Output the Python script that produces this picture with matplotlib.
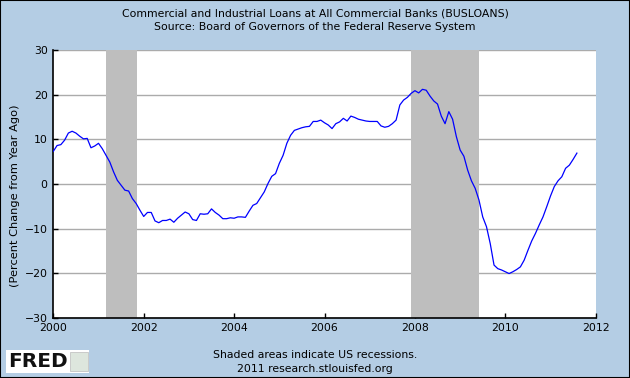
import numpy as np
import pandas as pd
import matplotlib
matplotlib.use("Agg")
from matplotlib import pyplot as plt
from matplotlib.patches import Rectangle

# monthly % change from year ago, Jan 2000 .. Aug 2011
y2000 = [7.3, 8.6, 8.8, 9.8, 11.4, 11.8, 11.4, 10.7, 10.1, 10.2, 8.1, 8.5]
y2001 = [9.1, 7.9, 6.4, 4.9, 2.7, 0.8, -0.3, -1.4, -1.6, -3.3, -4.4, -5.9]
y2002 = [-7.3, -6.4, -6.4, -8.3, -8.7, -8.2, -8.2, -7.9, -8.6, -7.7, -7.0, -6.3]
y2003 = [-6.7, -8.0, -8.2, -6.7, -6.8, -6.7, -5.6, -6.4, -7.0, -7.8, -7.8, -7.6]
y2004 = [-7.7, -7.4, -7.4, -7.5, -6.1, -4.8, -4.4, -3.1, -1.8, 0.1, 1.7, 2.3]
y2005 = [4.6, 6.4, 9.1, 10.9, 12.0, 12.3, 12.6, 12.8, 12.9, 14.0, 14.0, 14.3]
y2006 = [13.7, 13.2, 12.4, 13.5, 13.9, 14.7, 14.1, 15.2, 14.9, 14.5, 14.3, 14.1]
y2007 = [14.0, 14.0, 14.0, 13.0, 12.7, 12.9, 13.5, 14.3, 17.7, 18.8, 19.4, 20.3]
y2008 = [20.9, 20.4, 21.2, 21.0, 19.7, 18.6, 17.9, 15.2, 13.5, 16.2, 14.5, 10.6]
y2009 = [7.6, 6.2, 3.1, 0.7, -1.0, -3.6, -7.4, -9.6, -13.4, -18.2, -19.0, -19.3]
y2010 = [-19.7, -20.1, -19.7, -19.2, -18.6, -17.1, -14.9, -12.8, -11.1, -9.2, -7.4, -5.1]
y2011 = [-2.7, -0.6, 0.7, 1.6, 3.5, 4.2, 5.5, 6.9]

values = (y2000 + y2001 + y2002 + y2003 + y2004 + y2005 + y2006 + y2007
          + y2008 + y2009 + y2010 + y2011)
dates = pd.date_range("2000-01-01", periods=len(values), freq="MS")
t = dates.year + (dates.month - 1) / 12.0

recessions = [(2001.167, 2001.845), (2007.917, 2009.42)]
xticks = [2000, 2002, 2004, 2006, 2008, 2010, 2012]
yticks = [-30, -20, -10, 0, 10, 20, 30]

bg = "#B4CDE4"

fig = plt.figure(figsize=(6.3, 3.78), dpi=100, facecolor=bg)
fig.patches.append(Rectangle((0, 0), 1, 1, transform=fig.transFigure,
                             fill=False, edgecolor="black", linewidth=1.5))

ax = fig.add_axes([0.0846, 0.1595, 0.861, 0.708])
ax.set_facecolor("white")

for a, b in recessions:
    ax.axvspan(a, b, color="#BEBEBE", linewidth=0, zorder=1)

ax.plot(t, values, color="#0000FF", linewidth=0.9, zorder=3)

ax.set_xlim(2000, 2012)
ax.set_ylim(-30, 30)
ax.set_xticks(xticks)
ax.set_yticks(yticks)
ax.yaxis.grid(True, color="#ABABAB", linewidth=1.0, zorder=0)
ax.set_axisbelow(True)
ax.tick_params(direction="in", length=3.5, width=1, colors="black",
               labelsize=7.8, pad=4)
for s in ["top", "right"]:
    ax.spines[s].set_visible(False)
for s in ["left", "bottom"]:
    ax.spines[s].set_linewidth(1.2)

ax.set_ylabel("(Percent Change from Year Ago)", fontsize=8.2)
ax.yaxis.set_label_coords(-0.062, 0.455)

fig.text(0.5, 0.965, "Commercial and Industrial Loans at All Commercial Banks (BUSLOANS)",
         ha="center", va="center", fontsize=7.8)
fig.text(0.5, 0.929, "Source: Board of Governors of the Federal Reserve System",
         ha="center", va="center", fontsize=7.8)
fig.text(0.5, 0.062, "Shaded areas indicate US recessions.",
         ha="center", va="center", fontsize=7.8)
fig.text(0.5, 0.025, "2011 research.stlouisfed.org",
         ha="center", va="center", fontsize=7.8)

# FRED logo box
fig.patches.append(Rectangle((0.01, 0.012), 0.132, 0.063, transform=fig.transFigure,
                             facecolor="white", edgecolor="none"))
fig.text(0.013, 0.043, "FRED", ha="left", va="center", fontsize=14.5,
         fontweight="bold", color="#111111")
fig.patches.append(Rectangle((0.111, 0.018), 0.029, 0.052, transform=fig.transFigure,
                             facecolor="#DDE6DD", edgecolor="#BBBBBB", linewidth=0.5))

fig.savefig("out.png", dpi=100, facecolor=bg)
